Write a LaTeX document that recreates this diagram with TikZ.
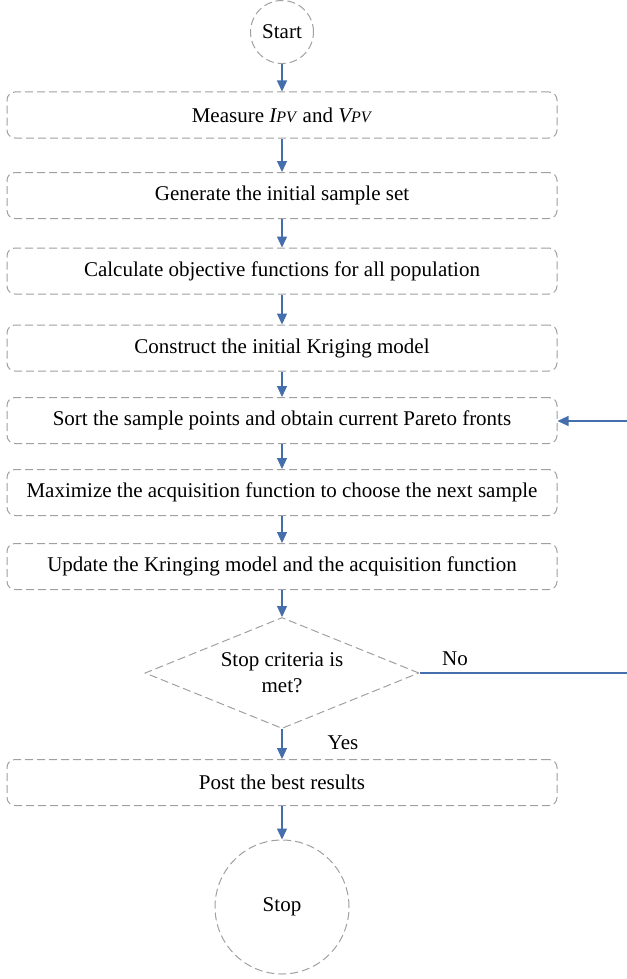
\documentclass[tikz,border=0pt]{standalone}
\usepackage{fontspec}
\setmainfont{Liberation Serif}
\usetikzlibrary{shapes.geometric,arrows.meta}
\definecolor{dashgray}{RGB}{160,160,160}
\definecolor{arrowblue}{RGB}{68,110,172}
\begin{document}
\begin{tikzpicture}[x=1pt,y=-1pt,
  font=\fontsize{21}{26}\selectfont,
  outline/.style={draw=dashgray, line width=1pt, dash pattern=on 8pt off 4pt},
  procbox/.style={outline, rounded corners=8pt, minimum width=550pt, minimum height=46pt, inner sep=0pt},
  termcircle/.style={outline, circle, inner sep=0pt},
  decision/.style={outline, diamond, aspect=2.47, minimum width=274pt, minimum height=111pt, inner sep=0pt, align=center},
  flow/.style={draw=arrowblue, line width=1.2pt, -{Triangle[width=10pt,length=11pt]}},
  flowline/.style={draw=arrowblue, line width=1.2pt}
]
\useasboundingbox (0,0) rectangle (626,979);

\node[termcircle, minimum size=63pt] (start) at (282,32) {Start};
\node[procbox] (b1) at (282,115) {Measure \textit{I{\fontsize{16}{16}\selectfont PV}} and \textit{V{\fontsize{16}{16}\selectfont PV}}};
\node[procbox] (b2) at (282,195.5) {Generate the initial sample set};
\node[procbox] (b3) at (282,271) {Calculate objective functions for all population};
\node[procbox] (b4) at (282,348) {Construct the initial Kriging model};
\node[procbox] (b5) at (282,420.5) {Sort the sample points and obtain current Pareto fronts};
\node[procbox] (b6) at (282,492.5) {Maximize the acquisition function to choose the next sample};
\node[procbox] (b7) at (282,566.5) {Update the Kringing model and the acquisition function};
\node[decision] (dia) at (282,673) {Stop criteria is\\met?};
\node[procbox] (b8) at (282,782.5) {Post the best results};
\node[termcircle, minimum size=134pt] (stop) at (282,907) {Stop};

\draw[flow] (start) -- (b1);
\draw[flow] (b1) -- (b2);
\draw[flow] (b2) -- (b3);
\draw[flow] (b3) -- (b4);
\draw[flow] (b4) -- (b5);
\draw[flow] (b5) -- (b6);
\draw[flow] (b6) -- (b7);
\draw[flow] (b7) -- (dia);
\draw[flow] (dia) -- (b8);
\draw[flow] (b8) -- (stop);

\coordinate (loopB) at (634,673);
\coordinate (loopT) at (634,421);
\draw[flow] (dia.east) -- (loopB) -- (loopT) -- (b5.east |- loopT);

\node (no) at (455,659) {No};
\node (yes) at (343,743) {Yes};
\end{tikzpicture}
\end{document}
